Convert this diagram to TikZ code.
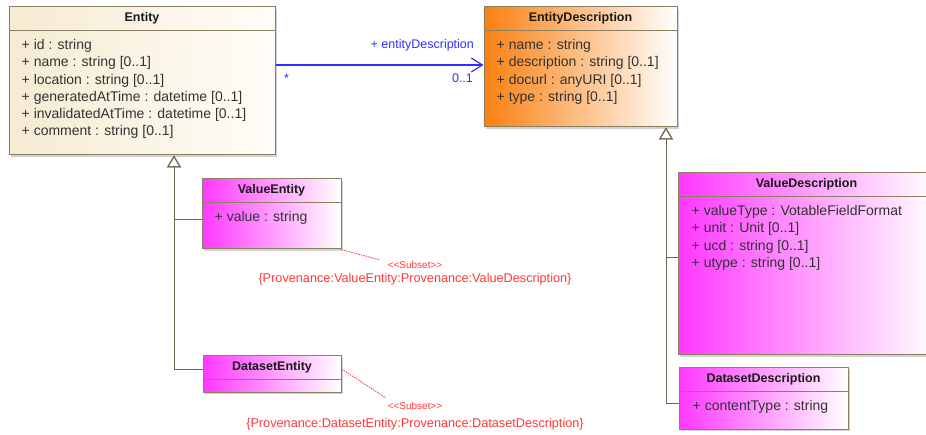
\documentclass[tikz,border=0pt]{standalone}
\usepackage{fontspec}
\setmainfont{Liberation Sans}
\usepackage{tikz}
\usetikzlibrary{shadows, arrows.meta}

\definecolor{umlborder}{HTML}{8C7F62}
\definecolor{genline}{HTML}{6E6552}
\definecolor{entitycream}{HTML}{F5EBD2}
\definecolor{entitywhite}{HTML}{FFFDF8}
\definecolor{descorange}{HTML}{FA8010}
\definecolor{submagenta}{HTML}{FF38FF}
\definecolor{assocblue}{HTML}{2E2EFF}
\definecolor{constraint}{HTML}{FF3838}

\begin{document}
\begin{tikzpicture}[x=1pt, y=-1pt]
      \tikzstyle{classbox} = [rectangle, draw=umlborder, line width=1pt, inner sep=0pt, drop shadow={shadow xshift=2pt, shadow yshift=-2pt, fill=black!45, opacity=0.4}]
      \tikzstyle{entitybox} = [classbox, left color=entitycream, right color=entitywhite]
      \tikzstyle{descbox} = [classbox, left color=descorange, right color=white]
      \tikzstyle{subbox} = [classbox, left color=submagenta, right color=white]
      \tikzstyle{classname} = [font=\fontsize{12.5}{15}\selectfont\bfseries, text=black!90, inner sep=0pt]
      \tikzstyle{attrs} = [font=\fontsize{14}{17.2}\selectfont, align=left, anchor=north west, inner sep=0pt, text=black!80]
      \tikzstyle{divider} = [draw=umlborder, line width=1pt]
      \tikzstyle{inherit} = [draw=genline, line width=1pt, -{Triangle[open, length=12pt, width=14pt]}]
      \tikzstyle{assoc} = [draw=assocblue, line width=1.2pt, -{Straight Barb[length=11pt, width=14pt]}]
      \tikzstyle{assoclabel} = [font=\fontsize{12.5}{15}\selectfont, text=assocblue, inner sep=0pt]
      \tikzstyle{subset} = [draw=constraint, line width=0.8pt, dash pattern=on 1.5pt off 1pt]
      \tikzstyle{stereo} = [font=\fontsize{10}{12}\selectfont, text=constraint, inner sep=0pt]
      \tikzstyle{constr} = [font=\fontsize{12.7}{15}\selectfont, text=constraint, inner sep=0pt]

      \useasboundingbox (0,0) rectangle (926,435);

      \node (entity) [entitybox, minimum width=266pt, minimum height=148pt] at (142,81) {};
      \draw [divider] ([yshift=-24pt]entity.north west) -- ([yshift=-24pt]entity.north east);
      \node (entityname) [classname] at ([yshift=-12pt]entity.north) {Entity};
      \node (entityattr) [attrs] at ([xshift=13pt, yshift=-31pt]entity.north west) {\strut+ id : string\\+ name : string [0..1]\\+ location : string [0..1]\\+ generatedAtTime : datetime [0..1]\\+ invalidatedAtTime : datetime [0..1]\\+ comment : string [0..1]};

      \node (entdesc) [descbox, minimum width=193pt, minimum height=120pt] at (580.5,67) {};
      \draw [divider] ([yshift=-24pt]entdesc.north west) -- ([yshift=-24pt]entdesc.north east);
      \node (entdescname) [classname] at ([yshift=-12pt]entdesc.north) {EntityDescription};
      \node (entdescattr) [attrs] at ([xshift=13pt, yshift=-31pt]entdesc.north west) {\strut+ name : string\\+ description : string [0..1]\\+ docurl : anyURI [0..1]\\+ type : string [0..1]};

      \node (valent) [subbox, minimum width=139pt, minimum height=70pt] at (271.5,214) {};
      \draw [divider] ([yshift=-24pt]valent.north west) -- ([yshift=-24pt]valent.north east);
      \node (valentname) [classname] at ([yshift=-12pt]valent.north) {ValueEntity};
      \node (valentattr) [attrs] at ([xshift=13pt, yshift=-31pt]valent.north west) {\strut+ value : string};

      \node (dsent) [subbox, minimum width=138pt, minimum height=36pt] at (272,374) {};
      \draw [divider] ([yshift=-24pt]dsent.north west) -- ([yshift=-24pt]dsent.north east);
      \node (dsentname) [classname] at ([yshift=-12pt]dsent.north) {DatasetEntity};

      \node (valdesc) [subbox, minimum width=257pt, minimum height=182pt] at (806.5,264) {};
      \draw [divider] ([yshift=-24pt]valdesc.north west) -- ([yshift=-24pt]valdesc.north east);
      \node (valdescname) [classname] at ([yshift=-12pt]valdesc.north) {ValueDescription};
      \node (valdescattr) [attrs] at ([xshift=14pt, yshift=-31pt]valdesc.north west) {\strut+ valueType : VotableFieldFormat\\+ unit : Unit [0..1]\\+ ucd : string [0..1]\\+ utype : string [0..1]};

      \node (dsdesc) [subbox, minimum width=169pt, minimum height=61pt] at (763.5,398.5) {};
      \draw [divider] ([yshift=-24pt]dsdesc.north west) -- ([yshift=-24pt]dsdesc.north east);
      \node (dsdescname) [classname] at ([yshift=-12pt]dsdesc.north) {DatasetDescription};
      \node (dsdescattr) [attrs] at ([xshift=14pt, yshift=-31pt]dsdesc.north west) {\strut+ contentType : string};

      \draw [assoc] ([yshift=16pt]entity.east) -- ([yshift=16pt]entity.east -| entdesc.west)
            node (rolename) [assoclabel, pos=1, anchor=base east, xshift=-9pt, yshift=16.5pt] {+ entityDescription}
            node (multmany) [assoclabel, pos=0, anchor=base west, xshift=8pt, yshift=-17.5pt] {*}
            node (multopt) [assoclabel, pos=1, anchor=base east, xshift=-10pt, yshift=-17.5pt] {0..1};

      \draw [inherit] ([yshift=-6pt]valent.west) -| ([xshift=32pt]entity.south);
      \draw [inherit] ([yshift=4pt]dsent.west) -| ([xshift=32pt]entity.south);
      \draw [inherit] ([yshift=6pt]valdesc.west) -| ([xshift=85.5pt]entdesc.south);
      \draw [inherit] ([yshift=-4.5pt]dsdesc.west) -| ([xshift=85.5pt]entdesc.south);

      \node (valsubset) [stereo] at (415,265) {<{}<Subset>{}>};
      \node (valconstr) [constr] at (415,279) {\{Provenance:ValueEntity:Provenance:ValueDescription\}};
      \coordinate (valsubend) at (380,260);
      \draw [subset] (valent.south east) -- (valsubend);

      \node (dssubset) [stereo] at (415,406) {<{}<Subset>{}>};
      \node (dsconstr) [constr] at (415,424) {\{Provenance:DatasetEntity:Provenance:DatasetDescription\}};
      \coordinate (dssubend) at (386,398);
      \draw [subset] ([yshift=5pt]dsent.east) -- (dssubend);

\end{tikzpicture}
\end{document}
